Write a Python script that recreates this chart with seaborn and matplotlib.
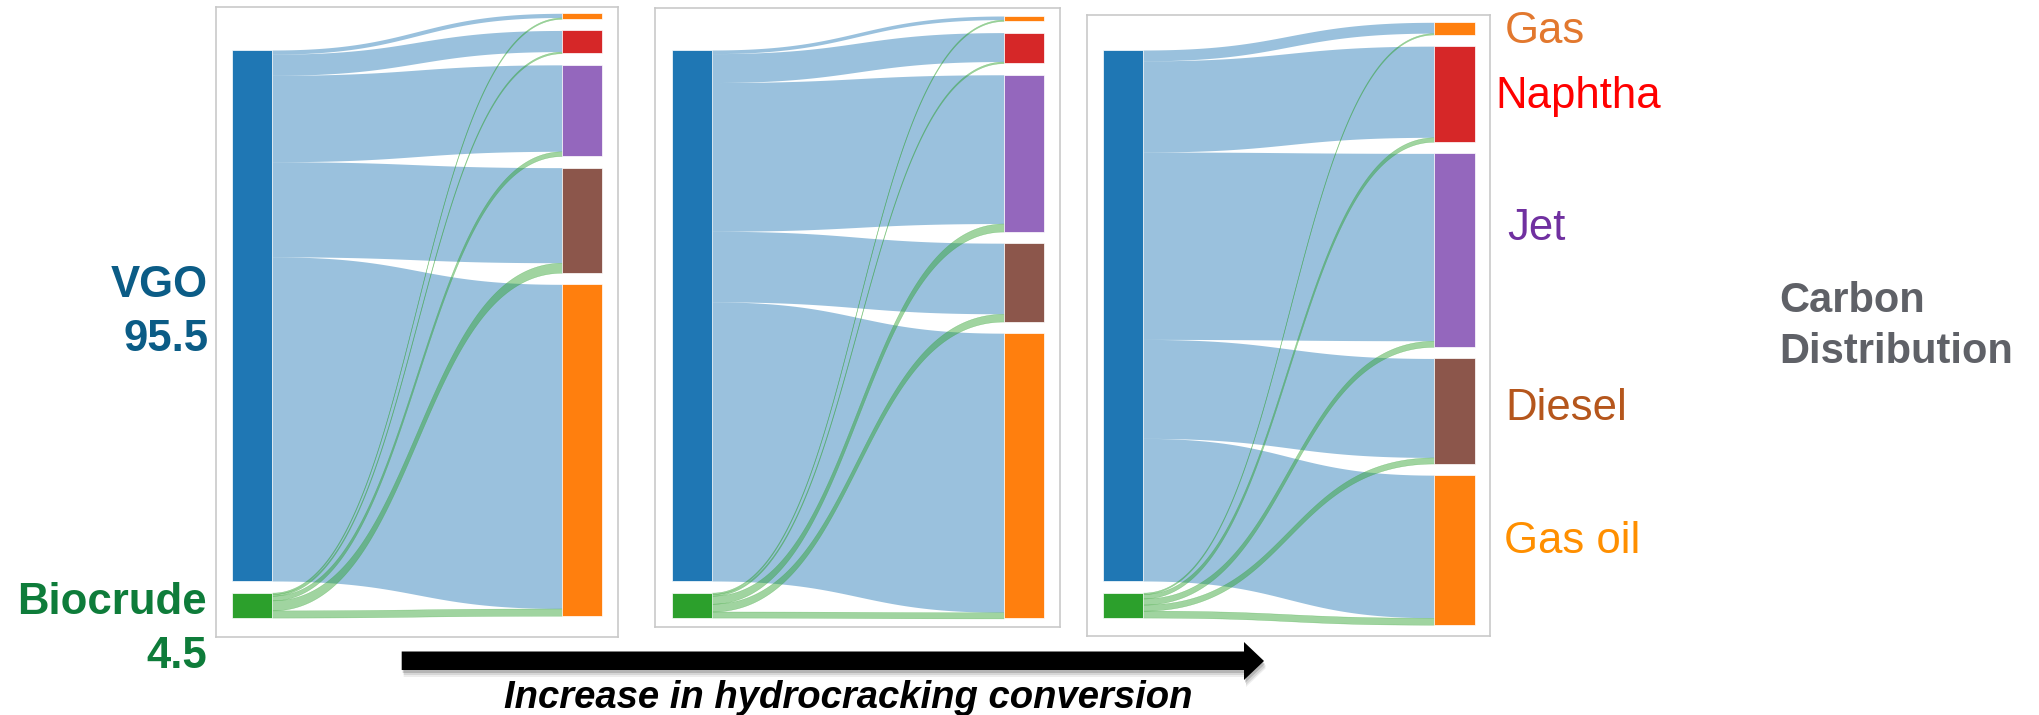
import numpy as np
import matplotlib
matplotlib.use("Agg")
import matplotlib.pyplot as plt
import seaborn as sns
from matplotlib.patches import Rectangle, Polygon

# ---------------- data ----------------
sources = ["VGO", "Biocrude"]
source_values = [95.5, 4.5]
products = ["Gas", "Naphtha", "Jet", "Diesel", "Gas oil"]
# carbon distribution of products (%), low -> high hydrocracking conversion
products_low = [1.0, 4.1, 16.4, 18.9, 59.6]
products_mid = [0.9, 5.5, 28.2, 14.1, 51.3]
products_high = [2.2, 17.2, 34.8, 18.9, 26.9]
# carbon from biocrude going into each product
biocrude_low = [0.25, 0.3, 0.85, 1.8, 1.3]
biocrude_mid = [0.25, 0.3, 1.45, 1.4, 1.1]
biocrude_high = [0.25, 0.8, 1.1, 1.1, 1.25]
arrow_label = "Increase in hydrocracking conversion"
side_title = ["Carbon", "Distribution"]

# ---------------- style ----------------
W, H = 2039, 715
sns.set_theme(style="white")
plt.rcParams['font.family'] = ['Liberation Sans', 'DejaVu Sans']
pal = sns.color_palette("tab10")
src_colors = [pal[0], pal[2]]
prod_colors = [pal[1], pal[3], pal[4], pal[5], pal[1]]
label_colors = ["#E2782E", "#FF0000", "#7030A0", "#B5561C", "#FF8F00"]
src_label_colors = ["#0B5C86", "#0E7C3A"]

fig = plt.figure(figsize=(W / 100, H / 100), dpi=100)


def fx(x):
    return x / W


def fy(y):
    return 1 - y / H


PPU = 5.56          # pixels per carbon-% unit
PAD = 11.6          # node padding in px
SRC_TOP = 50.0      # figure px
SRC_X, NODE_W = 16.5, 40.0
TGT_RIGHT, TGT_W = 15.8, 40.5

panels = [
    dict(box=(215.7, 6.7, 618.3, 637.3), tgt_top=13.3, prod=products_low, bio=biocrude_low),
    dict(box=(655.3, 8.3, 1060.0, 626.7), tgt_top=16.0, prod=products_mid, bio=biocrude_mid),
    dict(box=(1086.7, 14.7, 1490.3, 636.0), tgt_top=22.3, prod=products_high, bio=biocrude_high),
]

t = np.linspace(0, 1, 300)
s = 3 * t ** 2 - 2 * t ** 3

for p in panels:
    l, tp, r, b = p["box"]
    w, h = r - l, b - tp
    ax = fig.add_axes([fx(l), fy(b), w / W, h / H])
    ax.set_xlim(0, w)
    ax.set_ylim(h, 0)
    ax.set_xticks([])
    ax.set_yticks([])
    for sp in ax.spines.values():
        sp.set_color("#c9c9c9")
        sp.set_linewidth(1.2)

    prod = np.array(p["prod"])
    bio = np.array(p["bio"])
    flows = np.vstack([prod - bio, bio])  # [source, product]

    sy = []
    y = SRC_TOP - tp
    for v in source_values:
        sy.append(y)
        y += v * PPU + PAD
    ty = []
    y = p["tgt_top"] - tp
    for v in prod:
        ty.append(y)
        y += v * PPU + PAD

    x0 = SRC_X + NODE_W
    x1 = w - TGT_RIGHT - TGT_W
    xm = (x0 + x1) / 2
    xs = (1 - t) ** 3 * x0 + 3 * (1 - t) ** 2 * t * xm + 3 * (1 - t) * t ** 2 * xm + t ** 3 * x1

    tgt_fill = list(ty)
    for i in range(len(sources)):
        out = sy[i]
        for j in range(len(products)):
            f = flows[i, j] * PPU
            a0, a1 = out, out + f
            b0, b1 = tgt_fill[j], tgt_fill[j] + f
            top = a0 + (b0 - a0) * s
            bot = a1 + (b1 - a1) * s
            ax.fill_between(xs, top, bot, color=src_colors[i], alpha=0.45,
                            lw=0.3 if i == 1 else 0, edgecolor=src_colors[i],
                            zorder=1 + i)
            out += f
            tgt_fill[j] += f

    for i, v in enumerate(source_values):
        ax.add_patch(Rectangle((SRC_X, sy[i]), NODE_W, v * PPU, facecolor=src_colors[i],
                               edgecolor="white", lw=0.5, zorder=5))
    for j, v in enumerate(prod):
        ax.add_patch(Rectangle((x1, ty[j]), TGT_W, v * PPU, facecolor=prod_colors[j],
                               edgecolor="white", lw=0.5, zorder=5))

# ---------------- source labels ----------------
src_label_pos = [(208.3, 296.7, 350.7), (206.7, 613.5, 668.0)]
for name, val, col, (xr, b1, b2) in zip(sources, source_values, src_label_colors, src_label_pos):
    fig.text(fx(xr), fy(b1), name, ha="right", va="baseline", fontsize=31.5,
             fontweight="bold", color=col)
    fig.text(fx(xr), fy(b2), f"{val}", ha="right", va="baseline", fontsize=31.5,
             fontweight="bold", color=col)

# ---------------- product labels ----------------
prod_label_pos = [(1505, 42.7), (1495, 108.3), (1507, 240.0), (1505, 420.0), (1504, 553.3)]
for name, col, (xl, bl) in zip(products, label_colors, prod_label_pos):
    fig.text(fx(xl), fy(bl), name, ha="left", va="baseline", fontsize=31.5, color=col)

fig.text(fx(1779), fy(311.7), side_title[0], ha="left", va="baseline", fontsize=30,
         fontweight="bold", color="#5F6167")
fig.text(fx(1779), fy(363.3), side_title[1], ha="left", va="baseline", fontsize=30,
         fontweight="bold", color="#5F6167")

# ---------------- arrow ----------------
arrow_pts = np.array([(401.7, 651.5), (1244, 651.5), (1244, 642), (1264, 661),
                      (1244, 680), (1244, 670), (401.7, 670)])
for dx, dy, a in [(2, 7, 0.10), (2, 5, 0.15), (1, 3, 0.25)]:
    sh = arrow_pts + np.array([dx, dy])
    fig.patches.append(Polygon(np.column_stack([fx(sh[:, 0]), fy(sh[:, 1])]), closed=True,
                               transform=fig.transFigure, facecolor="#555555", alpha=a,
                               edgecolor="none", zorder=1))
fig.patches.append(Polygon(np.column_stack([fx(arrow_pts[:, 0]), fy(arrow_pts[:, 1])]),
                           closed=True, transform=fig.transFigure, facecolor="black",
                           edgecolor="none", zorder=2))

fig.text(fx(504), fy(708), arrow_label, ha="left", va="baseline", fontsize=27.5,
         fontweight="bold", fontstyle="italic", color="black")

fig.savefig("out.png", dpi=100, facecolor="white")
